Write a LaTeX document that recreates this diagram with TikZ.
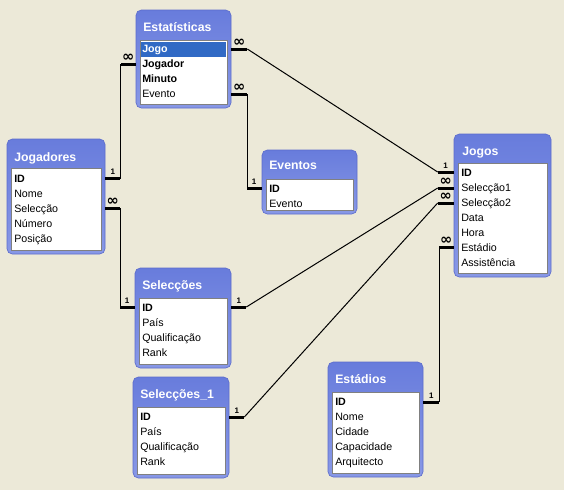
\documentclass[tikz,border=0pt]{standalone}
\usepackage{fontspec}
\setmainfont{Liberation Sans}
\newfontfamily\symfont{DejaVu Sans}
\usetikzlibrary{fit,calc}
\definecolor{bg}{RGB}{236,233,216}
\definecolor{frametop}{RGB}{104,124,220}
\definecolor{framebot}{RGB}{136,152,230}
\definecolor{frameline}{RGB}{92,108,204}
\definecolor{hlblue}{RGB}{49,106,197}
\tikzset{
 tblbox/.style={rectangle, rounded corners=4pt, top color=frametop, bottom color=framebot, draw=frameline, line width=0.5pt, inner sep=0pt},
 tbllist/.style={rectangle, fill=white, draw=gray, line width=0.75pt, inner sep=0pt},
 tbltitle/.style={anchor=west, inner sep=0pt, text=white, text height=6.8pt, text depth=2pt, font=\fontsize{9.2}{10}\selectfont\bfseries},
 fld/.style={anchor=west, inner sep=0pt, yshift=-0.9pt, text height=5.6pt, text depth=1.6pt, font=\fontsize{8}{9}\selectfont},
 keyfld/.style={fld, font=\fontsize{8}{9}\selectfont\bfseries},
 stubline/.style={line width=2.25pt},
 rel/.style={line width=0.75pt},
 one/.style={inner sep=0pt, font=\fontsize{6}{7}\selectfont\bfseries},
 many/.style={inner sep=0pt, font=\symfont\fontsize{11}{11}\selectfont\bfseries},
}
\begin{document}
\begin{tikzpicture}[x=0.75pt,y=-0.75pt]
\fill[bg] (0,0) rectangle (564,490);
\useasboundingbox (0,0) rectangle (564,490);

% Estatisticas
\node[tblbox, fit={(136,10) (231,108)}] (est) {};
\node[tbltitle] (est-t) at (143,28) {Estatísticas};
\node[tbllist, fit={(140,40) (227,104)}] (est-l) {};
\fill[hlblue] (141,42) rectangle (226,57);
\node[keyfld, text=white] (est-1) at (142,49) {Jogo};
\node[keyfld] (est-2) at (142,64) {Jogador};
\node[keyfld] (est-3) at (142,79) {Minuto};
\node[fld] (est-4) at (142,94) {Evento};

% Jogadores
\node[tblbox, fit={(7,139) (105,254)}] (jgd) {};
\node[tbltitle] (jgd-t) at (14,158) {Jogadores};
\node[tbllist, fit={(11,168) (101,250)}] (jgd-l) {};
\node[keyfld] (jgd-1) at (14,179) {ID};
\node[fld] (jgd-2) at (14,194) {Nome};
\node[fld] (jgd-3) at (14,209) {Selecção};
\node[fld] (jgd-4) at (14,224) {Número};
\node[fld] (jgd-5) at (14,239) {Posição};

% Eventos
\node[tblbox, fit={(262,150) (357,214)}] (evt) {};
\node[tbltitle] (evt-t) at (269,166) {Eventos};
\node[tbllist, fit={(266,179) (353,210)}] (evt-l) {};
\node[keyfld] (evt-1) at (269,189) {ID};
\node[fld] (evt-2) at (269,204) {Evento};

% Jogos
\node[tblbox, fit={(454,134) (551,277)}] (jog) {};
\node[tbltitle] (jog-t) at (462,152) {Jogos};
\node[tbllist, fit={(458,163) (547,273)}] (jog-l) {};
\node[keyfld] (jog-1) at (461,173) {ID};
\node[fld] (jog-2) at (461,188) {Selecção1};
\node[fld] (jog-3) at (461,203) {Selecção2};
\node[fld] (jog-4) at (461,218) {Data};
\node[fld] (jog-5) at (461,233) {Hora};
\node[fld] (jog-6) at (461,248) {Estádio};
\node[fld] (jog-7) at (461,263) {Assistência};

% Seleccoes
\node[tblbox, fit={(135,268) (231,368)}] (sel) {};
\node[tbltitle] (sel-t) at (142,286) {Selecções};
\node[tbllist, fit={(139,298) (227,364)}] (sel-l) {};
\node[keyfld] (sel-1) at (142,308) {ID};
\node[fld] (sel-2) at (142,323) {País};
\node[fld] (sel-3) at (142,338) {Qualificação};
\node[fld] (sel-4) at (142,353) {Rank};

% Seleccoes_1
\node[tblbox, fit={(133,377) (229,478)}] (sl1) {};
\node[tbltitle] (sl1-t) at (140,395) {Selecções\_1};
\node[tbllist, fit={(137,407) (225,474)}] (sl1-l) {};
\node[keyfld] (sl1-1) at (140,417) {ID};
\node[fld] (sl1-2) at (140,432) {País};
\node[fld] (sl1-3) at (140,447) {Qualificação};
\node[fld] (sl1-4) at (140,462) {Rank};

% Estadios
\node[tblbox, fit={(328,362) (423,477)}] (std) {};
\node[tbltitle] (std-t) at (335,380) {Estádios};
\node[tbllist, fit={(332,392) (419,473)}] (std-l) {};
\node[keyfld] (std-1) at (335,402) {ID};
\node[fld] (std-2) at (335,417) {Nome};
\node[fld] (std-3) at (335,432) {Cidade};
\node[fld] (std-4) at (335,447) {Capacidade};
\node[fld] (std-5) at (335,462) {Arquitecto};

% C1: Estatisticas.Jogador -> Jogadores.ID
\draw[stubline] (est.west |- 0,64) -- ++(-15,0) coordinate (c1a);
\draw[stubline] (jgd.east |- 0,178) -- ++(15,0) coordinate (c1b);
\draw[rel] (c1a) |- (c1b);
\node[many] (m1) at ($(c1a)+(7.5,-6.5)$) {∞};
\node[one] (o1) at ($(c1b)+(-7.5,-6.5)$) {1};

% C2: Estatisticas.Jogo -> Jogos.ID
\draw[stubline] (est.east |- 0,49) -- ++(16,0) coordinate (c2a);
\draw[stubline] (jog.west |- 0,172) -- ++(-16,0) coordinate (c2b);
\draw[rel] (c2a) -- (c2b);
\node[many] (m2) at ($(c2a)+(-8,-6.5)$) {∞};
\node[one] (o2) at ($(c2b)+(8,-6.5)$) {1};

% C3: Estatisticas.Evento -> Eventos.ID
\draw[stubline] (est.east |- 0,94) -- ++(16,0) coordinate (c3a);
\draw[stubline] (evt.west |- 0,188) -- ++(-15,0) coordinate (c3b);
\draw[rel] (c3a) |- (c3b);
\node[many] (m3) at ($(c3a)+(-8,-6.5)$) {∞};
\node[one] (o3) at ($(c3b)+(7.5,-6.5)$) {1};

% C4: Jogadores.Seleccao -> Seleccoes.ID
\draw[stubline] (jgd.east |- 0,208) -- ++(15,0) coordinate (c4a);
\draw[stubline] (sel.west |- 0,307) -- ++(-15,0) coordinate (c4b);
\draw[rel] (c4a) |- (c4b);
\node[many] (m4) at ($(c4a)+(-7.5,-6.5)$) {∞};
\node[one] (o4) at ($(c4b)+(7.5,-6.5)$) {1};

% C5: Seleccoes.ID -> Jogos.Seleccao1
\draw[stubline] (sel.east |- 0,307) -- ++(15,0) coordinate (c5a);
\draw[stubline] (jog.west |- 0,188) -- ++(-16,0) coordinate (c5b);
\draw[rel] (c5a) -- (c5b);
\node[one] (o5) at ($(c5a)+(-7.5,-6.5)$) {1};
\node[many] (m5) at ($(c5b)+(8,-6.5)$) {∞};

% C6: Seleccoes_1.ID -> Jogos.Seleccao2
\draw[stubline] (sl1.east |- 0,417) -- ++(15,0) coordinate (c6a);
\draw[stubline] (jog.west |- 0,203) -- ++(-16,0) coordinate (c6b);
\draw[rel] (c6a) -- (c6b);
\node[one] (o6) at ($(c6a)+(-7.5,-6.5)$) {1};
\node[many] (m6) at ($(c6b)+(8,-6.5)$) {∞};

% C7: Estadios.ID -> Jogos.Estadio
\draw[stubline] (std.east |- 0,402) -- ++(16,0) coordinate (c7a);
\draw[stubline] (jog.west |- 0,247) -- ++(-15,0) coordinate (c7b);
\draw[rel] (c7a) |- (c7b);
\node[one] (o7) at ($(c7a)+(-8,-6.5)$) {1};
\node[many] (m7) at ($(c7b)+(7.5,-6.5)$) {∞};
\end{tikzpicture}
\end{document}
